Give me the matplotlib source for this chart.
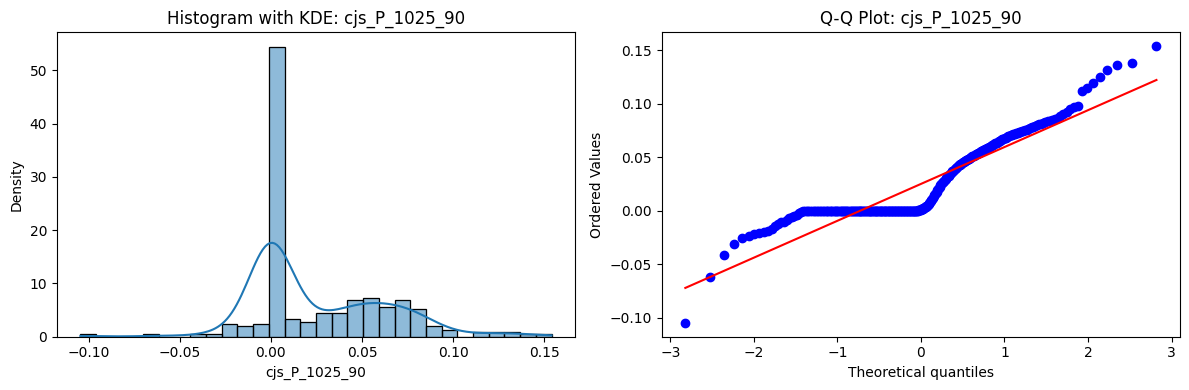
import numpy as np
import matplotlib
matplotlib.use("Agg")
import matplotlib.pyplot as plt
import seaborn as sns
from statistics import NormalDist

var_name = "cjs_P_1025_90"

low_values = [-0.1045, -0.0618, -0.0410, -0.0310,
              -0.0250, -0.0232, -0.0220, -0.0208, -0.0196, -0.0186,
              -0.0172, -0.0140, -0.0122, -0.0108, -0.0100,
              -0.0085, -0.0068, -0.0058, -0.0045, -0.0034, -0.0022,
              -0.0006, -0.0004, -0.0002]
zero_count = 112
high_values = [0.0001, 0.0002, 0.0003, 0.0004, 0.0005, 0.0007, 0.0009, 0.0011,
               0.0014, 0.0017, 0.0020, 0.0024, 0.0028, 0.0033, 0.0038, 0.0043,
               0.0049, 0.0055, 0.0062, 0.0070,
               0.0082, 0.0092, 0.0103, 0.0114, 0.0125, 0.0136, 0.0147, 0.0157,
               0.0168, 0.0180, 0.0192, 0.0204, 0.0216, 0.0228, 0.0240,
               0.0252, 0.0260, 0.0268, 0.0275, 0.0283, 0.0290, 0.0298, 0.0306,
               0.0314, 0.0322, 0.0330,
               0.0338, 0.0346, 0.0354, 0.0362, 0.0370, 0.0377, 0.0384, 0.0391,
               0.0398, 0.0405, 0.0413,
               0.0423, 0.0428, 0.0433, 0.0438, 0.0443, 0.0448, 0.0453, 0.0458,
               0.0463, 0.0468, 0.0473, 0.0478, 0.0483, 0.0488, 0.0493, 0.0498,
               0.0503,
               0.0509, 0.0514, 0.0518, 0.0523, 0.0528, 0.0532, 0.0537, 0.0542,
               0.0546, 0.0551, 0.0556, 0.0560, 0.0565, 0.0570, 0.0575, 0.0580,
               0.0584, 0.0589,
               0.0596, 0.0602, 0.0608, 0.0614, 0.0620, 0.0626, 0.0632, 0.0638,
               0.0644, 0.0650, 0.0656, 0.0662, 0.0668, 0.0674,
               0.0681, 0.0686, 0.0691, 0.0696, 0.0701, 0.0706, 0.0711, 0.0716,
               0.0721, 0.0726, 0.0731, 0.0736, 0.0741, 0.0746, 0.0751, 0.0756,
               0.0761,
               0.0768, 0.0774, 0.0781, 0.0788, 0.0795, 0.0802, 0.0809, 0.0816,
               0.0823, 0.0830, 0.0836, 0.0842, 0.0848,
               0.0858, 0.0870, 0.0885, 0.0905, 0.0925,
               0.0955, 0.0968, 0.0978,
               0.1118, 0.1150, 0.1200, 0.1250, 0.1320, 0.1360, 0.1385, 0.1540]

data = np.array(low_values + [0.0] * zero_count + high_values)

fig, axes = plt.subplots(1, 2, figsize=(12, 4), dpi=100)

# Histogram with KDE
ax = axes[0]
sns.histplot(data, bins=30, kde=True, stat="density", ax=ax)
ax.set_title(f"Histogram with KDE: {var_name}")
ax.set_xlabel(var_name)
ax.set_ylabel("Density")

# Q-Q plot (Filliben plotting positions, normal distribution)
ax = axes[1]
osr = np.sort(data)
n = len(osr)
m = np.empty(n)
m[-1] = 0.5 ** (1.0 / n)
m[0] = 1 - m[-1]
i = np.arange(2, n)
m[1:-1] = (i - 0.3175) / (n + 0.365)
nd = NormalDist()
osm = np.array([nd.inv_cdf(p) for p in m])
slope, intercept = np.polyfit(osm, osr, 1)
ax.plot(osm, osr, "bo")
ax.plot(osm, slope * osm + intercept, "r-")
ax.set_title(f"Q-Q Plot: {var_name}")
ax.set_xlabel("Theoretical quantiles")
ax.set_ylabel("Ordered Values")

plt.tight_layout()
fig.savefig("out.png", dpi=100, bbox_inches="tight")
